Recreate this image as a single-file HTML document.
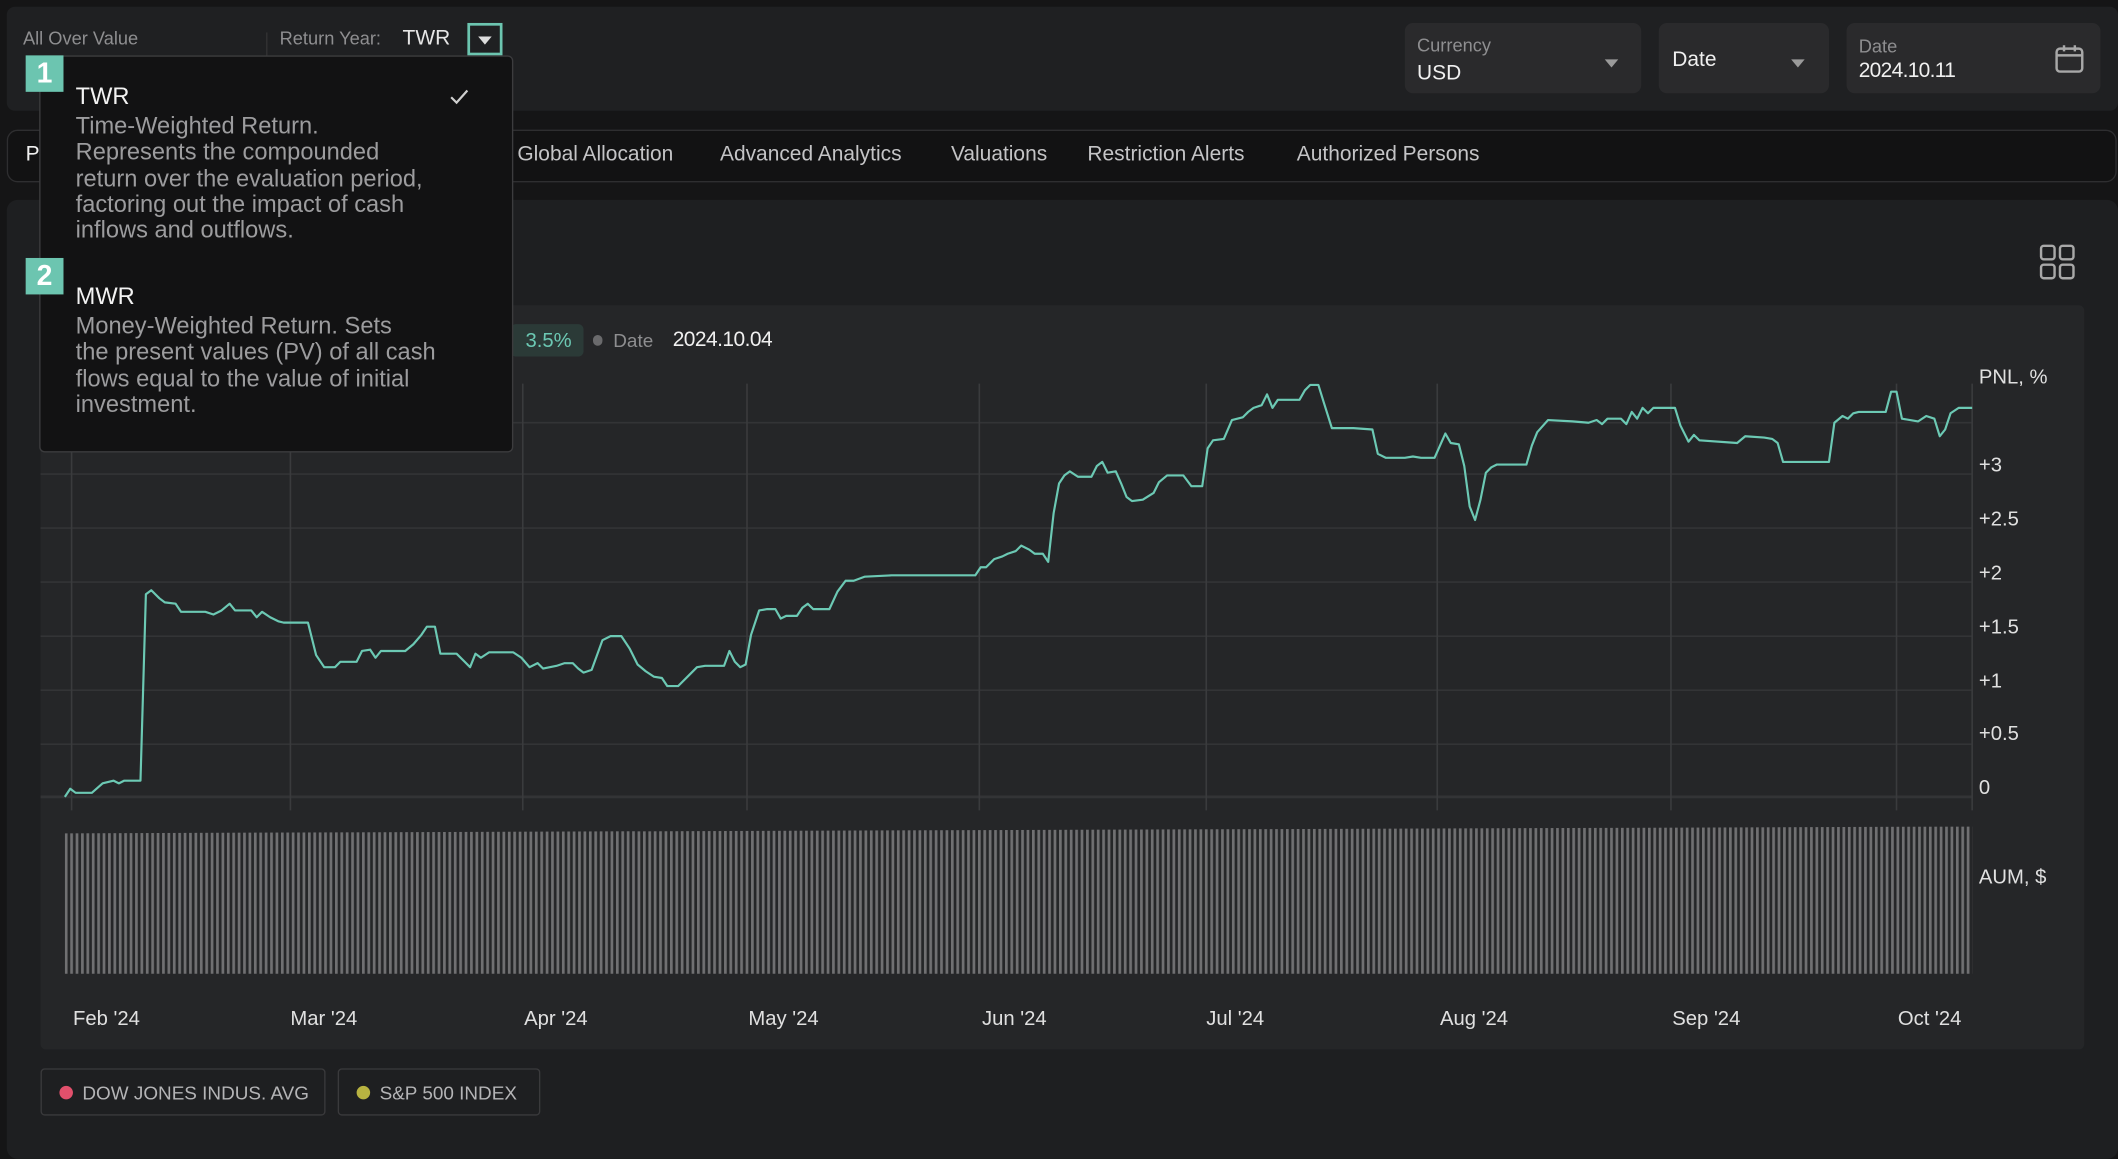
<!DOCTYPE html>
<html><head><meta charset="utf-8"><style>
*{margin:0;padding:0;box-sizing:border-box}
html,body{width:2118px;height:1148px;overflow:hidden;background:#151516;font-family:"Liberation Sans",sans-serif}
#w{position:absolute;left:0;top:0;width:1568px;height:850px;transform:scale(1.3508,1.3506);transform-origin:0 0}
.a{position:absolute;white-space:nowrap}
.g{color:#8e8e90}
.box{position:absolute;background:#2a2a2c;border-radius:6px}
.tab{position:absolute;top:106px;font-size:15.5px;color:#c4c4c6}
.desc{position:absolute;left:56px;font-size:17.5px;line-height:19.3px;color:#9c9c9e}
.chip{position:absolute;top:791px;height:35px;border:1px solid #3a3a3c;border-radius:3px;font-size:14px;color:#b4b4b6;padding:9px 0 0 30px}
.chip i{position:absolute;left:13px;top:12px;width:10px;height:10px;border-radius:50%}
</style></head><body><div id="w">
<div class="a" style="left:5px;top:5px;width:1563px;height:77px;background:#1f2022;border-radius:6px"></div>
<div class="a g" style="left:17px;top:21px;font-size:13.5px">All Over Value</div>
<div class="a" style="left:197px;top:24px;width:1px;height:20px;background:#333"></div>
<div class="a g" style="left:207px;top:21px;font-size:13.5px">Return Year:</div>
<div class="a" style="left:298px;top:20px;font-size:15.5px;color:#e6e6e6">TWR</div>
<div class="a" style="left:346px;top:17px;width:26px;height:24px;border:2px solid #6cc5b0"></div>
<div class="a" style="left:354px;top:27px;width:0;height:0;border-left:5px solid transparent;border-right:5px solid transparent;border-top:6px solid #ddd"></div>

<div class="box" style="left:1040px;top:17px;width:175px;height:52px"></div>
<div class="a g" style="left:1049px;top:26px;font-size:13.5px">Currency</div>
<div class="a" style="left:1049px;top:46px;font-size:15.5px;color:#f0f0f0">USD</div>
<div class="a" style="left:1188px;top:44px;border-left:5px solid transparent;border-right:5px solid transparent;border-top:6px solid #9a9a9a"></div>
<div class="box" style="left:1228px;top:17px;width:126px;height:52px"></div>
<div class="a" style="left:1238px;top:36px;font-size:15.5px;color:#f0f0f0">Date</div>
<div class="a" style="left:1326px;top:44px;border-left:5px solid transparent;border-right:5px solid transparent;border-top:6px solid #9a9a9a"></div>
<div class="box" style="left:1367px;top:17px;width:188px;height:52px"></div>
<div class="a g" style="left:1376px;top:27px;font-size:13.5px">Date</div>
<div class="a" style="left:1376px;top:44px;font-size:15.5px;color:#f0f0f0;letter-spacing:-0.5px">2024.10.11</div>
<svg class="a" style="left:1520px;top:32px" width="24" height="24" viewBox="0 0 24 24"><rect x="2.5" y="4" width="19" height="17" rx="2.5" fill="none" stroke="#a8a8a8" stroke-width="1.8"/><line x1="2.5" y1="9" x2="21.5" y2="9" stroke="#a8a8a8" stroke-width="1.8"/><line x1="8" y1="1.5" x2="8" y2="6" stroke="#a8a8a8" stroke-width="1.8"/><line x1="16" y1="1.5" x2="16" y2="6" stroke="#a8a8a8" stroke-width="1.8"/></svg>

<div class="a" style="left:5px;top:96px;width:1562px;height:39px;background:#121213;border:1px solid #2e2e30;border-radius:8px"></div>
<div class="tab" style="left:19px;color:#f0f0f0">P</div>
<div class="tab" style="left:383px">Global Allocation</div>
<div class="tab" style="left:533px">Advanced Analytics</div>
<div class="tab" style="left:704px">Valuations</div>
<div class="tab" style="left:805px">Restriction Alerts</div>
<div class="tab" style="left:960px">Authorized Persons</div>

<div class="a" style="left:5px;top:148px;width:1563px;height:710px;background:#1e1f21;border-radius:8px"></div>
<svg class="a" style="left:1508px;top:179px" width="30" height="30" viewBox="0 0 30 30" fill="none" stroke="#a8a8a8" stroke-width="1.8"><rect x="3" y="3" width="10" height="10" rx="2"/><rect x="17" y="3" width="10" height="10" rx="2"/><rect x="3" y="17" width="10" height="10" rx="2"/><rect x="17" y="17" width="10" height="10" rx="2"/></svg>
<div class="a" style="left:30px;top:226px;width:1513px;height:551px;background:#252628;border-radius:4px"></div>

<svg class="a" style="left:0;top:0" width="1568" height="850">
<defs><pattern id="bars" x="48" y="0" width="4" height="10" patternUnits="userSpaceOnUse"><rect x="0" y="0" width="2" height="10" fill="#707072"/></pattern></defs>
<g stroke="#333436" stroke-width="1.2">
<line x1="30" y1="313" x2="1460" y2="313"/><line x1="30" y1="351" x2="1460" y2="351"/><line x1="30" y1="391" x2="1460" y2="391"/><line x1="30" y1="431" x2="1460" y2="431"/><line x1="30" y1="471" x2="1460" y2="471"/><line x1="30" y1="511" x2="1460" y2="511"/><line x1="30" y1="551" x2="1460" y2="551"/><line x1="30" y1="590" x2="1460" y2="590" stroke-width="2"/>
</g>
<g stroke="#3a3b3d" stroke-width="1.2">
<line x1="53" y1="284" x2="53" y2="600"/><line x1="215" y1="284" x2="215" y2="600"/><line x1="387" y1="284" x2="387" y2="600"/><line x1="553" y1="284" x2="553" y2="600"/><line x1="725" y1="284" x2="725" y2="600"/><line x1="893" y1="284" x2="893" y2="600"/><line x1="1064" y1="284" x2="1064" y2="600"/><line x1="1237" y1="284" x2="1237" y2="600"/><line x1="1404" y1="284" x2="1404" y2="600"/>
<line x1="1460" y1="284" x2="1460" y2="600"/>
</g>
<polygon points="48,617 900,614 1460,612 1460,721 48,721" fill="url(#bars)"/>
<polyline fill="none" stroke="#6cc9b4" stroke-width="1.6" stroke-linejoin="round" points="48,590 52,584 56,587 68,587 76,580 84,578 88,580 92,578 104,578 108,440 112,437 118,443 122,446 130,447 134,453 152,453 158,455 164,452 170,447 174,452 186,452 190,457 194,453 200,457 206,460 210,461 228,461 234,485 240,494 248,494 252,490 264,490 268,482 274,481 278,487 282,482 300,482 306,477 312,470 316,464 322,464 326,484 338,484 344,490 348,494 352,484 356,487 362,483 380,483 386,487 392,494 398,491 402,495 412,493 418,491 424,491 428,495 432,498 438,496 446,474 452,471 460,471 466,480 472,492 478,497 484,501 490,502 494,508 502,508 510,500 516,494 522,493 536,493 540,482 544,490 548,494 552,492 556,470 562,452 568,451 574,451 578,458 582,456 590,456 594,450 598,447 602,451 614,451 620,438 626,430 632,430 640,427 660,426 722,426 726,420 730,420 736,414 742,412 746,410 752,408 756,404 762,407 766,410 772,410 776,416 780,380 784,358 788,352 792,349 798,353 808,353 812,345 816,342 820,350 826,349 830,358 834,368 838,371 846,370 854,365 858,357 864,352 876,352 882,360 890,360 894,332 898,326 906,325 912,311 920,309 924,305 928,302 934,300 938,292 942,302 946,296 962,296 966,289 970,285 976,285 980,298 986,317 1002,317 1016,318 1020,336 1026,339 1040,339 1046,338 1052,339 1062,339 1066,330 1070,321 1074,328 1080,329 1084,345 1088,375 1092,385 1096,370 1100,350 1104,346 1108,344 1130,344 1134,330 1138,320 1146,311 1164,312 1176,313 1182,311 1186,314 1190,310 1200,310 1204,314 1208,305 1212,310 1216,302 1220,306 1224,302 1240,302 1244,315 1250,327 1254,322 1258,326 1286,328 1292,323 1306,324 1312,325 1316,328 1320,342 1354,342 1358,313 1364,308 1368,310 1372,306 1376,305 1396,305 1400,290 1404,290 1408,310 1420,312 1426,308 1432,310 1436,323 1440,318 1444,306 1450,302 1460,302"/>
<g font-family="Liberation Sans, sans-serif" font-size="15" fill="#e0e0e0">
<text x="1465" y="284">PNL, %</text>
<text x="1465" y="349">+3</text><text x="1465" y="389">+2.5</text><text x="1465" y="429">+2</text><text x="1465" y="469">+1.5</text><text x="1465" y="509">+1</text><text x="1465" y="548">+0.5</text><text x="1465" y="588">0</text>
<text x="1465" y="654">AUM, $</text>
<text x="54" y="759">Feb '24</text><text x="215" y="759">Mar '24</text><text x="388" y="759">Apr '24</text><text x="554" y="759">May '24</text><text x="727" y="759">Jun '24</text><text x="893" y="759">Jul '24</text><text x="1066" y="759">Aug '24</text><text x="1238" y="759">Sep '24</text><text x="1405" y="759">Oct '24</text>
</g>
</svg>

<div class="a" style="left:378px;top:240px;width:54px;height:24px;background:#2b3a37;border-radius:4px"></div>
<div class="a" style="left:389px;top:244px;font-size:15px;color:#6cc9b4">3.5%</div>
<div class="a" style="left:439px;top:248px;width:7px;height:8px;border-radius:4px;background:#6a6a6c"></div>
<div class="a g" style="left:454px;top:244px;font-size:14px">Date</div>
<div class="a" style="left:498px;top:243px;font-size:15.5px;color:#f0f0f0;letter-spacing:-0.4px">2024.10.04</div>

<div class="chip" style="left:30px;width:211px"><i style="background:#e2506c"></i>DOW JONES INDUS. AVG</div>
<div class="chip" style="left:250px;width:150px"><i style="background:#b8b341"></i>S&amp;P 500 INDEX</div>

<div class="a" style="left:29px;top:41px;width:351px;height:294px;background:#121213;border:1px solid #3c3c3e;border-radius:4px"></div>
<div class="a" style="left:19px;top:41px;width:28px;height:27px;background:#6cc5b0;color:#fff;font-size:21px;font-weight:bold;text-align:center;line-height:27px">1</div>
<div class="a" style="left:19px;top:191px;width:28px;height:27px;background:#6cc5b0;color:#fff;font-size:21px;font-weight:bold;text-align:center;line-height:27px">2</div>
<div class="a" style="left:56px;top:61px;font-size:17.5px;color:#f2f2f2">TWR</div>
<svg class="a" style="left:332px;top:65px" width="16" height="14" viewBox="0 0 16 14"><polyline points="2,7 6,11 14,2" fill="none" stroke="#cfcfcf" stroke-width="1.6"/></svg>
<div class="desc" style="top:84px">Time-Weighted Return.<br>Represents the compounded<br>return over the evaluation period,<br>factoring out the impact of cash<br>inflows and outflows.</div>
<div class="a" style="left:56px;top:209px;font-size:17.5px;color:#f2f2f2">MWR</div>
<div class="desc" style="top:232px">Money-Weighted Return. Sets<br>the present values (PV) of all cash<br>flows equal to the value of initial<br>investment.</div>
</div></body></html>
